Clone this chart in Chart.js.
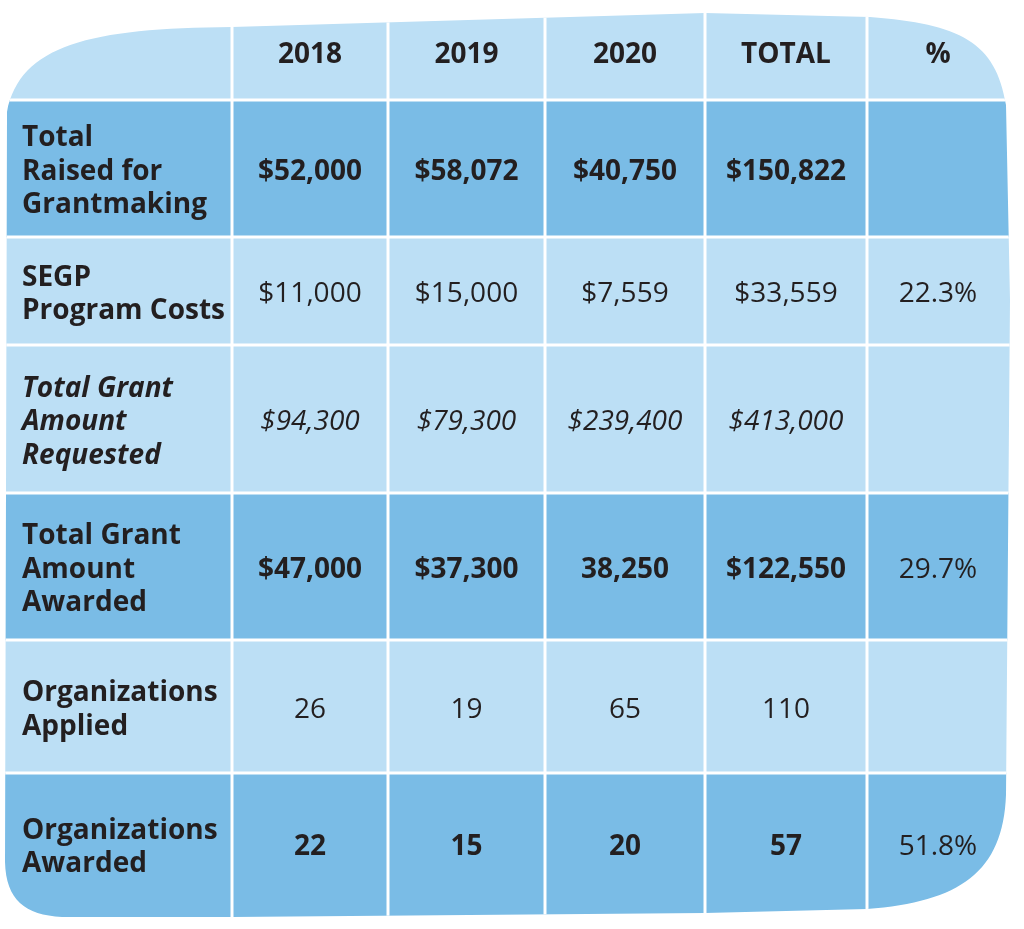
<!DOCTYPE html>
<html>
<head>
<meta charset="utf-8">
<title>SEGP grantmaking summary</title>
<script src="https://cdn.jsdelivr.net/npm/chart.js@4/dist/chart.umd.min.js"></script>
<style>
  html, body { margin: 0; padding: 0; background: #fff; overflow: hidden; }
  canvas { display: block; }
</style>
</head>
<body>
<canvas id="grants" width="1024" height="929"></canvas>
<script>
// table content
const columns = ['2018', '2019', '2020', 'TOTAL', '%']
const rowLabels = [
  ['Total', 'Raised for', 'Grantmaking'],
  ['SEGP', 'Program Costs'],
  ['Total Grant', 'Amount', 'Requested'],
  ['Total Grant', 'Amount', 'Awarded'],
  ['Organizations', 'Applied'],
  ['Organizations', 'Awarded'],
]
const raisedForGrantmaking = ['$52,000', '$58,072', '$40,750', '$150,822', '']
const programCosts = ['$11,000', '$15,000', '$7,559', '$33,559', '22.3%']
const amountRequested = ['$94,300', '$79,300', '$239,400', '$413,000', '']
const amountAwarded = ['$47,000', '$37,300', '38,250', '$122,550', '29.7%']
const orgsApplied = ['26', '19', '65', '110', '']
const orgsAwarded = ['22', '15', '20', '57', '51.8%']

const tableRows = [raisedForGrantmaking, programCosts, amountRequested, amountAwarded, orgsApplied, orgsAwarded]

// layout (scale units = page pixels)
const colEdges = [6, 232, 388, 545, 705, 867, 1009]
const rowEdges = [14, 100, 237, 345, 493, 640, 773, 915]

const LIGHT = '#bcdff5'
const DARK = '#7abce6'
const INK = '#231f20'
const FONT = '"Open Sans", "Noto Sans", sans-serif'
const TEXT_DY = 3.5   // canvas 'middle' sits a little high for these glyphs

// per-row look: fill, label font, value font, font for the % column
const rowLook = [
  { fill: DARK,  label: 'bold',        value: 'bold',        pct: 'normal' },
  { fill: LIGHT, label: 'bold',        value: 'normal',      pct: 'normal' },
  { fill: LIGHT, label: 'italic bold', value: 'italic normal', pct: 'italic normal' },
  { fill: DARK,  label: 'bold',        value: 'bold',        pct: 'normal' },
  { fill: LIGHT, label: 'bold',        value: 'normal',      pct: 'normal' },
  { fill: DARK,  label: 'bold',        value: 'bold',        pct: 'normal' },
]

const mid = (edges, i) => (edges[i] + edges[i + 1]) / 2

const datasets = tableRows.map((vals, r) => ({
  label: rowLabels[r].join(' '),
  data: vals.map((v, c) => ({ x: mid(colEdges, c + 1), y: mid(rowEdges, r + 1), text: v })),
  pointRadius: 0,
}))

function blobPath(ctx, x, y) {
  const P = (a, b) => [x.getPixelForValue(a), y.getPixelForValue(b)]
  ctx.beginPath()
  ctx.moveTo(...P(232, 27))
  ctx.lineTo(...P(705, 13))
  ctx.lineTo(...P(870, 17))
  ctx.bezierCurveTo(...P(960, 24), ...P(996, 42), ...P(1006, 105))
  ctx.lineTo(...P(1010, 300))
  ctx.lineTo(...P(1006, 795))
  ctx.bezierCurveTo(...P(1003, 872), ...P(960, 902), ...P(867, 909))
  ctx.lineTo(...P(705, 913))
  ctx.lineTo(...P(232, 917))
  ctx.lineTo(...P(62, 917))
  ctx.bezierCurveTo(...P(25, 915), ...P(6, 900), ...P(5, 862))
  ctx.lineTo(...P(7, 112))
  ctx.bezierCurveTo(...P(20, 45), ...P(90, 28), ...P(232, 27))
  ctx.closePath()
}

const tablePlugin = {
  id: 'tableCells',
  beforeDatasetsDraw(chart) {
    const { ctx, scales: { x, y } } = chart
    ctx.save()
    blobPath(ctx, x, y)
    ctx.clip()

    // cell fills, outer cells run past the blob and get clipped
    for (let r = 0; r < rowEdges.length - 1; r++) {
      const top = r === 0 ? 0 : y.getPixelForValue(rowEdges[r])
      const bot = r === rowEdges.length - 2 ? chart.height : y.getPixelForValue(rowEdges[r + 1])
      ctx.fillStyle = r === 0 ? LIGHT : rowLook[r - 1].fill
      ctx.fillRect(0, top, chart.width, bot - top)
    }

    // white rules
    ctx.strokeStyle = '#ffffff'
    ctx.lineWidth = 3
    ctx.beginPath()
    for (let c = 1; c < colEdges.length - 1; c++) {
      const px = x.getPixelForValue(colEdges[c])
      ctx.moveTo(px, 0)
      ctx.lineTo(px, chart.height)
    }
    for (let r = 1; r < rowEdges.length - 1; r++) {
      const py = y.getPixelForValue(rowEdges[r])
      ctx.moveTo(0, py)
      ctx.lineTo(chart.width, py)
    }
    ctx.stroke()
    ctx.restore()
  },
  afterDatasetsDraw(chart) {
    const { ctx, scales: { x, y } } = chart
    ctx.save()
    ctx.fillStyle = INK
    ctx.textBaseline = 'middle'

    // column headers
    ctx.textAlign = 'center'
    ctx.font = `bold 28px ${FONT}`
    columns.forEach((h, c) => {
      ctx.fillText(h, x.getPixelForValue(mid(colEdges, c + 1)), y.getPixelForValue(mid(rowEdges, 0)) - 2)
    })

    chart.data.datasets.forEach((ds, r) => {
      const look = rowLook[r]
      const meta = chart.getDatasetMeta(r)

      // row label, left aligned in first column
      const lines = rowLabels[r]
      const cy = meta.data[0].y + TEXT_DY
      ctx.textAlign = 'left'
      ctx.font = `${look.label} 28px ${FONT}`
      lines.forEach((ln, i) => {
        ctx.fillText(ln, x.getPixelForValue(colEdges[0]) + 16, cy + (i - (lines.length - 1) / 2) * 33.5)
      })

      // values
      ctx.textAlign = 'center'
      meta.data.forEach((pt, c) => {
        const txt = ds.data[c].text
        if (!txt) return
        const w = c === columns.length - 1 ? look.pct : look.value
        ctx.font = `${w} 28px ${FONT}`
        ctx.fillText(txt, pt.x, pt.y + TEXT_DY)
      })
    })
    ctx.restore()
  }
}

new Chart(document.getElementById('grants'), {
  type: 'scatter',
  data: { datasets },
  options: {
    responsive: false,
    animation: false,
    devicePixelRatio: 1,
    events: [],
    layout: { padding: 0 },
    scales: {
      x: { type: 'linear', min: 0, max: 1024, display: false },
      y: { type: 'linear', min: 0, max: 929, reverse: true, display: false },
    },
    plugins: {
      legend: { display: false },
      tooltip: { enabled: false },
    }
  },
  plugins: [tablePlugin]
})
</script>
</body>
</html>
